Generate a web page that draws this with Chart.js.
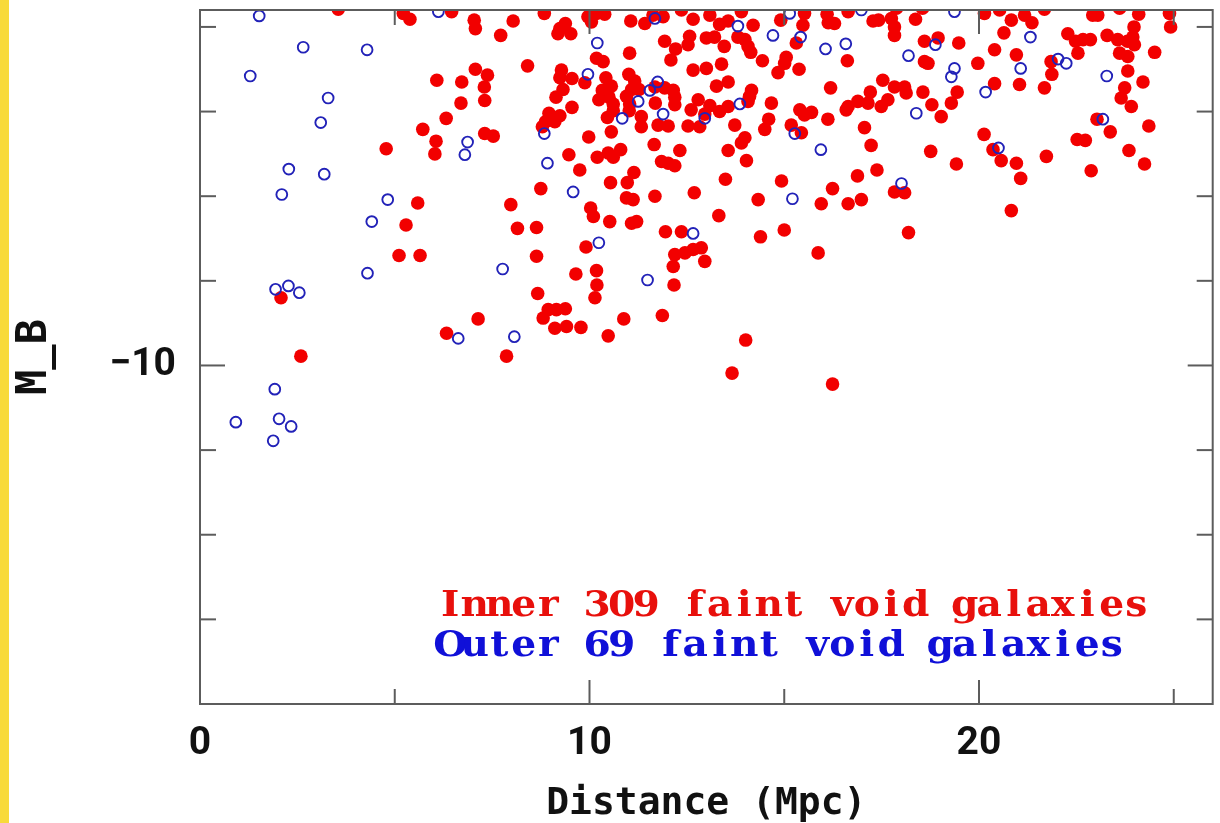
<!DOCTYPE html>
<html>
<head>
<meta charset="utf-8">
<script src="https://cdn.jsdelivr.net/npm/chart.js@4.4.1/dist/chart.umd.min.js"></script>
<style>
  html, body { margin: 0; padding: 0; background: #fff; }
  #wrap { position: relative; width: 1220px; height: 823px; overflow: hidden; }
  #strip { position: absolute; left: 0; top: 0; width: 9px; height: 823px; background: #f8da3a; z-index: 2; }
  canvas { position: absolute; left: 0; top: 0; }
</style>
</head>
<body>
<div id="wrap">
  <div id="strip"></div>
  <canvas id="voidChart" width="1220" height="823"></canvas>
</div>
<script>
// inner sample: distance (Mpc) and absolute B magnitude
const innerDist = [
  3.55, 5.22, 5.39, 6.46, 6.08, 6.32, 5.72, 6.06, 6.03, 4.78, 5.59, 5.29,
  5.11, 5.65, 2.08, 2.59, 6.33,
  8.15, 8.64, 10.52, 11.08, 11.21, 11.95, 12.36, 9.91, 8.64, 12.19, 12.45, 12.66, 12.87, 12.15, 12.96,
  9.65, 10.18, 10.19, 10.14, 12.17, 8.67, 8.94, 9.15, 9.38, 8.81, 9.11, 9.41, 9.78, 7.14, 10.88, 11.87,
  10.48, 7.87,
  13.32, 14.39, 15.00, 15.87, 18.19, 14.01, 13.66, 16.24, 20.83,
  7.04, 7.07, 8.04, 7.72, 8.84, 9.24, 9.38, 9.52, 9.19, 9.96, 10.18, 10.39, 10.05, 11.06, 11.42, 11.63,
  11.89, 12.36, 12.66, 12.57, 12.53, 11.93, 12.21, 12.09, 11.03, 10.18, 10.35, 8.41, 7.07, 7.38, 7.30,
  6.72, 6.70, 7.31, 7.31, 7.53, 9.28, 9.24, 9.55, 9.88, 9.32, 9.14, 9.55, 8.96, 9.24, 8.87, 8.79, 9.11,
  10.42, 10.56, 10.33, 10.50, 10.24, 10.61, 10.61, 10.46, 11.01, 11.16, 11.08, 11.27, 10.95, 11.03, 11.02,
  11.68, 11.93, 12.15, 12.19, 12.19, 11.69, 11.33, 11.33, 11.76, 12.02, 12.53, 12.66, 12.61, 9.98, 10.56,
  11.66, 12.32, 9.47, 10.20, 10.48, 10.61, 10.80, 9.75, 11.85, 12.02, 12.19, 11.14, 10.97, 10.54, 8.75,
  10.95, 11.12, 11.68, 12.69, 7.98, 10.03, 10.10,
  13.09, 13.34, 13.56, 13.90, 15.52, 15.48, 14.91, 14.20, 16.10, 16.13, 16.29, 16.64, 17.28, 17.42, 17.75,
  17.83, 17.83, 18.37, 17.88, 18.55, 15.31, 16.62, 18.60, 18.95, 18.60, 18.69, 13.00, 13.21, 13.46, 13.81,
  13.99, 14.07, 14.14, 14.44, 15.05, 15.01, 14.84, 15.38, 13.39, 13.00, 13.56, 13.26, 14.16, 14.11, 14.07,
  12.79, 13.09, 12.96, 12.83, 13.34, 13.56, 13.73, 14.67, 14.60, 14.50, 13.99, 13.90, 13.56, 15.40, 15.70,
  15.52, 15.18, 15.44, 16.12, 16.19, 16.64, 16.89, 17.15, 16.59, 17.21, 17.53, 17.66, 17.49, 17.83, 18.09,
  18.13, 18.56, 18.79, 19.03, 17.06, 17.23, 18.76, 13.49, 14.03, 14.93, 16.88, 17.38, 16.24, 17.83, 18.09,
  14.33, 15.95, 16.64, 16.98,
  20.14, 20.53, 21.17, 21.36, 20.83, 21.68, 20.64, 22.92, 23.05, 23.61, 24.10, 24.89, 24.92, 22.28, 22.48,
  22.67, 22.86, 22.54, 23.29, 23.56, 23.81, 23.98, 23.95, 23.99, 23.61, 23.82, 24.51, 19.48, 20.40, 19.97,
  20.96, 21.85, 21.87, 23.82, 24.21, 23.74, 23.65, 23.91, 20.40, 21.04, 21.68, 19.44, 19.29, 23.03, 23.37,
  24.36, 20.13, 20.36, 20.57, 20.96, 21.07, 21.73, 22.52, 22.73, 22.88, 23.85, 24.25, 19.42
];
const innerMag = [
  -14.21, -14.16, -14.09, -14.18, -13.37, -12.92, -12.79, -12.65, -12.50, -12.56, -11.92, -11.66,
  -11.30, -11.30, -10.80, -10.11, -10.38,
  -11.62, -11.63, -11.70, -11.68, -11.70, -11.58, -11.58, -11.40, -11.29, -11.31, -11.33, -11.37, -11.39, -11.17, -11.23,
  -11.08, -11.12, -10.95, -10.80, -10.95, -10.85, -10.66, -10.66, -10.67, -10.56, -10.44, -10.46, -10.45, -10.55, -10.55, -10.59,
  -10.35, -10.11,
  -11.77, -11.52, -11.60, -11.33, -11.57, -10.30, -9.91, -9.78, -11.83,
  -14.08, -13.98, -14.07, -13.90, -14.16, -13.98, -14.04, -13.92, -13.92, -14.12, -14.16, -14.15, -14.06, -14.07, -14.04, -14.14,
  -14.12, -14.20, -14.09, -13.89, -13.79, -13.83, -13.74, -13.61, -13.69, -13.63, -13.59, -13.54, -13.50, -13.43, -13.29,
  -13.35, -13.10, -13.13, -12.74, -12.71, -13.49, -13.40, -13.39, -13.34, -13.26, -13.17, -13.05, -12.98, -12.95, -12.88, -12.82, -12.88,
  -13.40, -13.30, -13.25, -13.17, -13.14, -13.09, -13.01, -12.93, -13.44, -13.36, -13.26, -13.26, -13.18, -13.09, -13.01,
  -13.29, -13.28, -13.25, -13.17, -13.08, -13.10, -12.94, -12.82, -12.84, -12.83, -12.83, -13.49, -13.02, -12.70, -12.76,
  -12.61, -12.54, -12.49, -12.46, -12.51, -12.46, -12.55, -12.31, -12.41, -12.39, -12.36, -12.28, -12.16, -12.16, -12.09,
  -11.98, -11.96, -12.00, -12.04, -11.90, -11.86, -11.76,
  -14.14, -14.03, -14.07, -14.18, -14.16, -14.02, -14.08, -14.02, -14.15, -14.05, -14.04, -14.18, -14.07, -14.08, -14.10,
  -14.00, -13.90, -14.09, -14.22, -14.22, -13.81, -13.60, -13.83, -13.87, -13.59, -13.57, -13.87, -13.88, -13.77, -13.88,
  -13.85, -13.77, -13.70, -13.60, -13.64, -13.57, -13.46, -13.50, -13.56, -13.51, -13.35, -13.30, -13.25, -13.18, -13.12,
  -13.14, -13.07, -12.97, -12.82, -13.00, -13.06, -12.84, -13.10, -12.91, -12.79, -12.69, -12.63, -12.54, -13.02, -12.99,
  -12.96, -12.84, -12.75, -12.91, -13.28, -13.06, -13.12, -13.10, -13.02, -13.23, -13.37, -13.14, -13.06, -13.29, -13.29,
  -13.22, -13.23, -13.08, -12.94, -12.81, -12.60, -12.53, -12.20, -12.42, -12.18, -12.24, -12.31, -12.09, -12.05, -12.04,
  -11.96, -11.91, -11.91, -11.96,
  -14.16, -14.20, -14.14, -14.05, -14.08, -14.21, -13.93, -14.14, -14.14, -14.22, -14.15, -14.16, -14.00, -13.92, -13.83,
  -13.85, -13.85, -13.69, -13.90, -13.85, -13.83, -14.00, -13.88, -13.79, -13.69, -13.65, -13.70, -13.81, -13.73, -13.57,
  -13.67, -13.59, -13.44, -13.48, -13.35, -13.28, -13.16, -13.06, -13.33, -13.32, -13.28, -13.23, -13.10, -12.91, -12.76,
  -12.83, -12.73, -12.55, -12.42, -12.39, -12.21, -12.47, -12.67, -12.66, -12.30, -12.54, -12.38, -12.38
];

// outer sample
const outerDist = [
  1.52, 2.65, 4.29, 1.29, 3.29, 3.10, 2.28, 3.19, 2.10, 4.82, 4.41, 6.12, 4.30, 1.94, 2.27, 2.55, 6.63,
  1.92, 0.92, 2.03, 2.34, 1.88, 12.66, 10.24, 7.77, 11.49, 8.07, 11.68, 10.20, 6.87, 6.80, 8.84, 8.92,
  9.58, 9.96, 11.25, 10.84, 11.55, 11.75, 11.89, 13.81, 15.14, 16.98, 14.71, 15.42, 16.06, 16.58, 18.19,
  18.88, 13.86, 12.96, 15.27, 18.39, 15.94, 18.01, 15.21, 19.37, 21.32, 21.07, 19.37, 19.29, 22.03, 22.24,
  23.28, 20.17, 23.18, 20.50
];
const outerMag = [
  -14.13, -13.76, -13.73, -13.42, -13.16, -12.87, -12.32, -12.26, -12.02, -11.96, -11.70, -14.18, -11.09, -10.90, -10.94, -10.86, -10.32,
  -9.72, -9.33, -9.37, -9.28, -9.11, -11.56, -11.45, -11.14, -11.01, -10.34, -14.10, -13.81, -12.64, -12.49, -12.74, -12.39,
  -12.05, -13.44, -13.12, -12.92, -13.25, -13.35, -12.97, -14.01, -14.16, -14.20, -13.90, -13.88, -13.74, -13.80, -13.66,
  -13.79, -13.09, -12.92, -12.74, -12.98, -12.55, -12.15, -11.97, -14.18, -13.88, -13.51, -13.51, -13.41, -13.62, -13.57,
  -13.42, -13.23, -12.91, -12.57
];

// axis ticks
const xMajorTicks = [0, 10, 20];
const xMinorTicks = [5, 15, 25];
const yMajorTicks = [-10];
const yMinorTicks = [-14, -13, -12, -11, -9, -8, -7];

const legendLines = [
  { text: 'Inner 309 faint void galaxies', color: '#e8100c' },
  { text: 'Outer 69 faint void galaxies', color: '#1010d8' }
];

const toPoints = (xs, ys) => xs.map((d, i) => ({ x: d, y: ys[i] }));

// box with inward ticks on all four sides, plus the sample labels
const framePlugin = {
  id: 'frame',
  afterDatasetsDraw(chart) {
    const { ctx, chartArea: a, scales: { x, y } } = chart;
    ctx.save();
    ctx.strokeStyle = '#5c5c5c';
    ctx.lineWidth = 2;
    ctx.strokeRect(a.left, a.top, a.right - a.left, a.bottom - a.top);

    const line = (x0, y0, x1, y1) => {
      ctx.beginPath();
      ctx.moveTo(x0, y0);
      ctx.lineTo(x1, y1);
      ctx.stroke();
    };
    const xt = (v, len) => {
      const px = x.getPixelForValue(v);
      line(px, a.bottom, px, a.bottom - len);
      line(px, a.top, px, a.top + len);
    };
    const yt = (v, len) => {
      const py = y.getPixelForValue(v);
      line(a.left, py, a.left + len, py);
      line(a.right, py, a.right - len, py);
    };
    xMajorTicks.forEach(v => xt(v, 24));
    xMinorTicks.forEach(v => xt(v, 15));
    yMajorTicks.forEach(v => yt(v, 25));
    yMinorTicks.forEach(v => yt(v, 16));

    // typewriter-style labels: one glyph per fixed-width cell, slightly widened
    const left = 438, cell = 24.5, bases = [616, 656];
    ctx.font = 'bold 35px "DejaVu Serif"';
    ctx.textBaseline = 'alphabetic';
    ctx.textAlign = 'center';
    legendLines.forEach((l, i) => {
      ctx.fillStyle = l.color;
      [...l.text].forEach((ch, k) => {
        if (ch === ' ') return;
        ctx.save();
        ctx.translate(left + cell * (k + 0.5), bases[i]);
        ctx.scale(1.12, 1);
        ctx.fillText(ch, 0, 0);
        ctx.restore();
      });
    });
    ctx.restore();
  }
};

const tickFont = { family: 'Roboto, Arial, sans-serif', weight: 'bold', size: 39 };
const titleFont = { family: '"DejaVu Sans Mono", monospace', weight: 'bold', size: 38, lineHeight: 1 };

// keep the plot box where the scales put it, without label overhang padding
const noPad = s => { s.paddingTop = 0; s.paddingBottom = 0; s.paddingLeft = 0; s.paddingRight = 0; };

new Chart(document.getElementById('voidChart').getContext('2d'), {
  type: 'scatter',
  data: {
    datasets: [
      {
        label: 'Outer',
        data: toPoints(outerDist, outerMag),
        pointStyle: 'circle',
        pointRadius: 5.4,
        pointBorderWidth: 1.9,
        pointBackgroundColor: 'rgba(0,0,0,0)',
        pointBorderColor: '#2222b8',
        order: 0,
        clip: 0
      },
      {
        label: 'Inner',
        data: toPoints(innerDist, innerMag),
        pointStyle: 'circle',
        pointRadius: 6.8,
        pointBorderWidth: 0,
        pointBackgroundColor: '#f20000',
        order: 1,
        clip: 0
      }
    ]
  },
  options: {
    responsive: false,
    animation: false,
    events: [],
    layout: { padding: { top: 10, right: 7, left: 0, bottom: 0 } },
    plugins: { legend: { display: false }, tooltip: { enabled: false } },
    scales: {
      x: {
        type: 'linear',
        min: 0,
        max: 26,
        grid: { display: false, drawTicks: false },
        border: { display: false },
        ticks: {
          stepSize: 5,
          padding: 17,
          color: '#111',
          font: tickFont,
          maxRotation: 0,
          autoSkip: false,
          callback: v => (xMajorTicks.includes(v) ? String(v) : '')
        },
        title: {
          display: true,
          text: 'Distance (Mpc)',
          color: '#111',
          font: titleFont,
          padding: { top: 0, bottom: 0 }
        },
        afterFit: s => { s.height = 119; noPad(s); }
      },
      y: {
        type: 'linear',
        reverse: true,
        min: -14.2,
        max: -6,
        grid: { display: false, drawTicks: false },
        border: { display: false },
        ticks: {
          stepSize: 1,
          padding: 24,
          color: '#111',
          font: tickFont,
          autoSkip: false,
          callback: v => (yMajorTicks.includes(v) ? '\u2212' + Math.abs(v) : '')
        },
        title: {
          display: true,
          text: 'M_B',
          color: '#111',
          font: { family: '"DejaVu Sans Mono", monospace', weight: 'bold', size: 42, lineHeight: 1 },
          padding: { top: 14, bottom: 0 }
        },
        afterFit: s => { s.width = 200; noPad(s); }
      }
    }
  },
  plugins: [framePlugin]
});
</script>
</body>
</html>
